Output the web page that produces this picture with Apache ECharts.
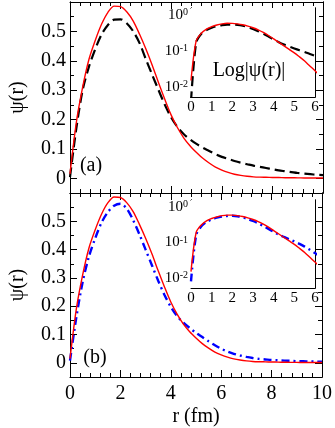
<!DOCTYPE html>
<html>
<head>
<meta charset="utf-8">
<script src="https://cdn.jsdelivr.net/npm/echarts@6/dist/echarts.min.js"></script>
<style>
html, body { margin: 0; padding: 0; background: #fff; }
#chart { width: 335px; height: 428px; }
</style>
</head>
<body>
<div id="chart"></div>
<script>
// r grid (fm) and wavefunctions
const rValues = [0, 0.25, 0.5, 0.75, 1, 1.25, 1.5, 1.75, 2, 2.25, 2.5, 2.75, 3, 3.25, 3.5, 3.75, 4, 4.25, 4.5, 4.75, 5, 5.25, 5.5, 5.75, 6, 6.25, 6.5, 6.75, 7, 7.25, 7.5, 7.75, 8, 8.25, 8.5, 8.75, 9, 9.25, 9.5, 9.75, 10]
const psiRed = [0.015, 0.19, 0.31, 0.405, 0.47, 0.525, 0.565, 0.586, 0.584, 0.566, 0.535, 0.49, 0.44, 0.385, 0.325, 0.268, 0.215, 0.172, 0.137, 0.11, 0.088, 0.068, 0.052, 0.038, 0.028, 0.02, 0.014, 0.01, 0.007, 0.005, 0.004, 0.0035, 0.003, 0.0025, 0.002, 0.0018, 0.0015, 0.0013, 0.001, 0.001, 0.001]
const psiBlack = [0.004, 0.17, 0.3, 0.38, 0.44, 0.49, 0.522, 0.54, 0.541, 0.527, 0.5, 0.46, 0.405, 0.352, 0.3, 0.25, 0.207, 0.174, 0.15, 0.132, 0.117, 0.104, 0.093, 0.082, 0.073, 0.066, 0.059, 0.053, 0.048, 0.043, 0.039, 0.035, 0.031, 0.027, 0.024, 0.021, 0.018, 0.016, 0.014, 0.012, 0.011]
const psiBlue = [0.008, 0.16, 0.285, 0.375, 0.44, 0.495, 0.532, 0.555, 0.562, 0.545, 0.505, 0.455, 0.4, 0.345, 0.29, 0.24, 0.198, 0.165, 0.142, 0.123, 0.106, 0.091, 0.076, 0.062, 0.05, 0.04, 0.032, 0.026, 0.021, 0.017, 0.014, 0.012, 0.01, 0.009, 0.008, 0.007, 0.006, 0.0055, 0.005, 0.0045, 0.004]

const mainYMajor = [0, 0.1, 0.2, 0.3, 0.4, 0.5]
const mainYMinor = [0.05, 0.15, 0.25, 0.35, 0.45, 0.55]
const insetYMajor = [0.01, 0.1, 1]
const insetYMinor = [0.006, 0.007, 0.008, 0.009, 0.02, 0.03, 0.04, 0.05, 0.06, 0.07, 0.08, 0.09, 0.2, 0.3, 0.4, 0.5, 0.6, 0.7, 0.8, 0.9]

const FONT = 'Liberation Serif'
const pairs = (ys) => rValues.map((r, i) => [r, ys[i]])

const line = { show: true, onZero: false, lineStyle: { color: '#000', width: 1 } }

function xAxisOf (grid, pos, opts) {
  return {
    type: 'value',
    gridIndex: grid,
    position: pos,
    min: 0,
    max: opts.max,
    interval: opts.interval,
    axisLine: line,
    axisTick: { inside: true, length: opts.tick, lineStyle: { color: '#000' } },
    minorTick: { show: true, splitNumber: opts.split, length: opts.minor, lineStyle: { color: '#000' } },
    axisLabel: { show: !!opts.labels, color: '#000', fontFamily: FONT, fontSize: opts.font, margin: opts.margin },
    splitLine: { show: false },
    name: opts.name || '',
    nameLocation: 'middle',
    nameGap: 30,
    nameTextStyle: { color: '#000', fontFamily: FONT, fontSize: 20 }
  }
}

function mainY (grid, pos, ticks, len, labels) {
  return {
    type: 'value',
    gridIndex: grid,
    position: pos,
    min: -0.05,
    max: 0.6,
    axisLine: line,
    axisTick: { inside: true, length: len, customValues: ticks, lineStyle: { color: '#000' } },
    axisLabel: {
      show: labels,
      customValues: ticks,
      formatter: (v) => (v === 0 ? '0' : v.toFixed(1)),
      color: '#000',
      fontFamily: FONT,
      fontSize: 20,
      margin: 4
    },
    splitLine: { show: false },
    name: labels ? 'ψ(r)' : '',
    nameLocation: 'middle',
    nameGap: 42,
    nameTextStyle: { color: '#000', fontFamily: FONT, fontSize: 20 }
  }
}

function insetY (grid, pos, ticks, len, labels) {
  return {
    type: 'log',
    logBase: 10,
    gridIndex: grid,
    position: pos,
    min: 0.0052,
    max: 1.56,
    axisLine: line,
    axisTick: { inside: true, length: len, customValues: ticks, lineStyle: { color: '#000' } },
    axisLabel: {
      show: labels,
      customValues: ticks,
      formatter: (v) => '10{s|' + Math.round(Math.log10(v)) + '}',
      color: '#000',
      fontFamily: FONT,
      fontSize: 15,
      margin: 3,
      rich: { s: { fontSize: 10, fontFamily: FONT, color: '#000', verticalAlign: 'top' } }
    },
    splitLine: { show: false }
  }
}

const mainX = { max: 10, interval: 2, tick: 7, split: 5, minor: 4, font: 20, margin: 7 }
const insX = { max: 6, interval: 1, tick: 5, split: 2, minor: 3, font: 15, margin: 3 }

const xAxes = [
  xAxisOf(0, 'bottom', mainX),
  xAxisOf(0, 'top', mainX),
  xAxisOf(1, 'bottom', Object.assign({}, mainX, { labels: true, name: 'r (fm)' })),
  xAxisOf(1, 'top', mainX),
  xAxisOf(2, 'bottom', Object.assign({}, insX, { labels: true })),
  xAxisOf(2, 'top', insX),
  xAxisOf(3, 'bottom', Object.assign({}, insX, { labels: true })),
  xAxisOf(3, 'top', insX)
]

const yAxes = []
;[0, 1].forEach((g) => {
  yAxes.push(mainY(g, 'left', mainYMajor, 7, true))
  yAxes.push(mainY(g, 'left', mainYMinor, 4, false))
  yAxes.push(mainY(g, 'right', mainYMajor, 7, false))
  yAxes.push(mainY(g, 'right', mainYMinor, 4, false))
})
;[2, 3].forEach((g) => {
  yAxes.push(insetY(g, 'left', insetYMajor, 5, true))
  yAxes.push(insetY(g, 'left', insetYMinor, 3, false))
  yAxes.push(insetY(g, 'right', insetYMajor, 5, false))
  yAxes.push(insetY(g, 'right', insetYMinor, 3, false))
})

function curve (data, xi, yi, color, width, type) {
  return {
    type: 'line',
    data: pairs(data),
    xAxisIndex: xi,
    yAxisIndex: yi,
    showSymbol: false,
    smooth: 0.3,
    lineStyle: { color: color, width: width, type: type },
    z: 5
  }
}

const dashed = [10, 5]
const dashDot = [8, 4, 2, 4]

const chart = echarts.init(document.getElementById('chart'))
chart.setOption({
  animation: false,
  backgroundColor: '#fff',
  grid: [
    { left: 56, top: 2, width: 267, height: 191, show: false },
    { left: 56, top: 193, width: 267, height: 190, show: false },
    { left: 191, top: 8, width: 124, height: 89, show: true, backgroundColor: '#fff', borderWidth: 0, z: 3 },
    { left: 191, top: 200, width: 124, height: 88, show: true, backgroundColor: '#fff', borderWidth: 0, z: 3 }
  ],
  xAxis: xAxes,
  yAxis: yAxes,
  series: [
    curve(psiBlack, 0, 0, '#000', 2.2, dashed),
    curve(psiRed, 0, 0, '#ff0000', 1.4, 'solid'),
    curve(psiBlue, 2, 4, '#0000ff', 2.4, dashDot),
    curve(psiRed, 2, 4, '#ff0000', 1.4, 'solid'),
    curve(psiBlack, 4, 8, '#000', 2.2, dashed),
    curve(psiRed, 4, 8, '#ff0000', 1.4, 'solid'),
    curve(psiBlue, 6, 12, '#0000ff', 2.4, dashDot),
    curve(psiRed, 6, 12, '#ff0000', 1.4, 'solid')
  ],
  graphic: [
    { type: 'text', x: 91, y: 166, style: { text: '(a)', fontFamily: FONT, fontSize: 20, fill: '#000', textAlign: 'center', textVerticalAlign: 'middle' } },
    { type: 'text', x: 95, y: 358, style: { text: '(b)', fontFamily: FONT, fontSize: 20, fill: '#000', textAlign: 'center', textVerticalAlign: 'middle' } },
    { type: 'text', x: 249, y: 71, z: 10, style: { text: 'Log|ψ(r)|', fontFamily: FONT, fontSize: 20, fill: '#000', textAlign: 'center', textVerticalAlign: 'middle' } }
  ]
})
</script>
</body>
</html>
